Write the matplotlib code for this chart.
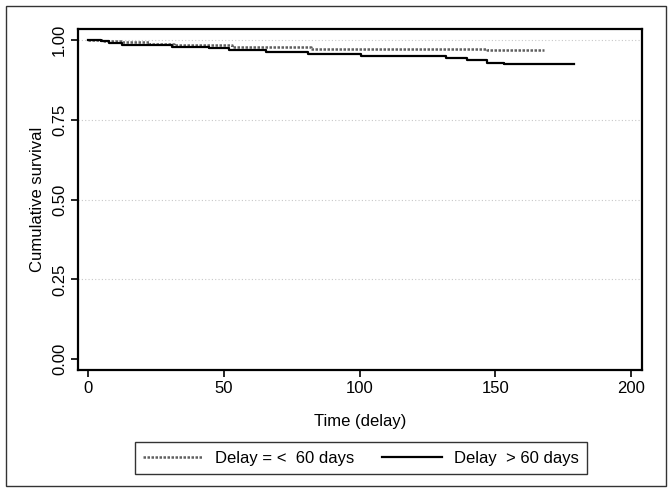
import matplotlib
matplotlib.use("Agg")
import matplotlib.pyplot as plt
from matplotlib.patches import Rectangle

# Kaplan-Meier step values
t_low = [0, 6, 12.5, 22.5, 31.7, 53, 62, 82, 147, 168]
s_low = [1.0, 0.997, 0.992, 0.9875, 0.984, 0.979, 0.977, 0.972, 0.967, 0.967]

t_high = [0, 4.8, 7.7, 12.5, 31, 44.6, 52, 65.6, 81, 100.7, 132, 139.5, 147, 153, 179]
s_high = [1.0, 0.995, 0.990, 0.984, 0.979, 0.974, 0.969, 0.963, 0.956, 0.951,
          0.943, 0.936, 0.927, 0.925, 0.925]

x_ticks = [0, 50, 100, 150, 200]
y_ticks = [0.0, 0.25, 0.5, 0.75, 1.0]
y_labels = ["0.00", "0.25", "0.50", "0.75", "1.00"]

plt.rcParams['font.family'] = ['Liberation Sans', 'DejaVu Sans']
plt.rcParams['font.size'] = 12

fig = plt.figure(figsize=(6.72, 4.92), dpi=100)
ax = fig.add_axes([78/672, 1 - 370/492, (642 - 78)/672, (370 - 29)/492])

# grid lines
for y in y_ticks[1:]:
    ax.axhline(y, color='#c8c8c8', lw=0.8, ls=(0, (1, 2)), zorder=1)

ax.step(t_low, s_low, where='post', color='#606060', lw=1.8, ls=(0, (1, 0.6)),
        label='Delay = <  60 days', zorder=3)
ax.step(t_high, s_high, where='post', color='black', lw=1.6,
        label='Delay  > 60 days', zorder=3)

ax.set_xlim(-3.7, 204)
ax.set_ylim(-0.034, 1.034)
ax.set_xticks(x_ticks)
ax.set_yticks(y_ticks)
ax.set_yticklabels(y_labels, rotation=90, va='center')
ax.tick_params(direction='out', length=5, width=1.2, labelsize=12, pad=3)
for s in ax.spines.values():
    s.set_linewidth(1.6)

ax.set_xlabel('Time (delay)', fontsize=12, labelpad=13)
ax.set_ylabel('Cumulative survival', fontsize=12, labelpad=5)

leg = fig.legend(loc='center', bbox_to_anchor=(361/672, 1 - 458/492), ncol=2,
                 frameon=True, fancybox=False, edgecolor='black',
                 handlelength=3.6, columnspacing=1.7, handletextpad=0.7,
                 borderpad=0.5, borderaxespad=0, fontsize=12)
leg.get_frame().set_linewidth(1.0)

# outer border
fig.patches.append(Rectangle((6/672, 1 - 486/492), 660/672, 480/492,
                             transform=fig.transFigure, fill=False,
                             edgecolor='#333333', lw=1.0))

fig.savefig('out.png', dpi=100)
